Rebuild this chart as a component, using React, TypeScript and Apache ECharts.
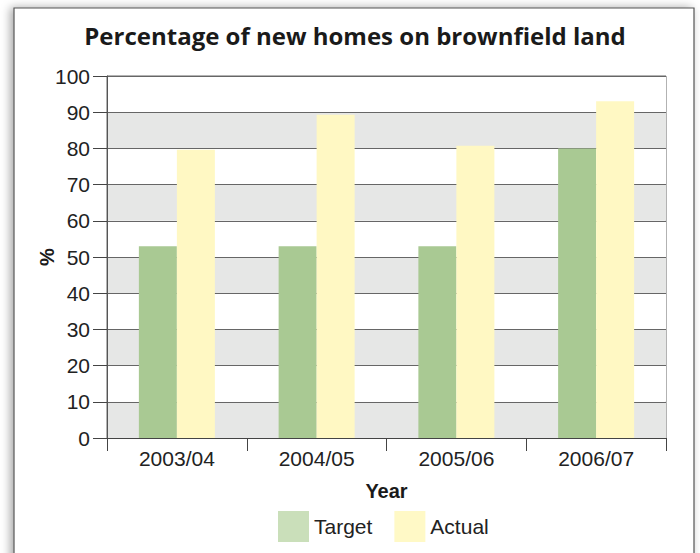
import React, { useEffect, useRef } from "react";
import * as echarts from "echarts";

const years = ["2003/04", "2004/05", "2005/06", "2006/07"];
const targetValues = [53, 53, 53, 80];
const actualValues = [79.6, 89.3, 80.7, 93];
const seriesNames = ["Target", "Actual"];

export default function App() {
  const ref = useRef<HTMLDivElement>(null);
  useEffect(() => {
    if (!ref.current) return;
    const chart = echarts.init(ref.current, undefined, { renderer: "svg" });
    const font = "'Liberation Sans', Arial, sans-serif";
    chart.setOption({
      animation: false,
      backgroundColor: "#ffffff",
      graphic: [
        {
          type: "rect",
          z: -10,
          shape: { x: 14, y: 8, width: 680, height: 560 },
          style: {
            fill: "#ffffff",
            stroke: "#555555",
            lineWidth: 1.2,
            shadowColor: "rgba(0,0,0,0.35)",
            shadowBlur: 10,
            shadowOffsetX: -3,
            shadowOffsetY: 0,
          },
        },
      ],
      title: {
        text: "Percentage of new homes on brownfield land",
        left: 355,
        textAlign: "center",
        top: 23,
        padding: 0,
        textStyle: {
          fontFamily: "'Open Sans', Lato, sans-serif",
          fontWeight: "bold",
          fontSize: 24,
          color: "#1a1a1a",
        },
      },
      legend: {
        left: 278,
        top: 511,
        padding: 0,
        itemWidth: 31,
        itemHeight: 31,
        itemGap: 22,
        icon: "rect",
        textStyle: { fontFamily: font, fontSize: 21, color: "#222" },
        data: [
          { name: seriesNames[0], itemStyle: { color: "#cadfba" } },
          { name: seriesNames[1], itemStyle: { color: "#fff9c6" } },
        ],
      },
      grid: {
        left: 107,
        right: 34,
        top: 76,
        bottom: 115,
        show: true,
        borderColor: "#666",
        borderWidth: 1,
        backgroundColor: "transparent",
      },
      xAxis: {
        type: "category",
        data: years,
        axisLine: { show: true, lineStyle: { color: "#444", width: 1 } },
        axisTick: { show: true, alignWithLabel: false, length: 13, lineStyle: { color: "#444" } },
        axisLabel: { fontFamily: font, fontSize: 21, color: "#222", margin: 10 },
        name: "Year",
        nameLocation: "middle",
        nameGap: 43,
        nameMoveOverlap: false,
        nameTextStyle: { fontFamily: font, fontSize: 20, fontWeight: "bold", color: "#1a1a1a" },
      },
      yAxis: {
        type: "value",
        min: 0,
        max: 100,
        interval: 10,
        axisLine: { show: true, lineStyle: { color: "#555", width: 1 } },
        axisTick: { show: true, length: 14, lineStyle: { color: "#444" } },
        axisLabel: { fontFamily: font, fontSize: 21, color: "#222", margin: 17 },
        splitLine: { show: true, lineStyle: { color: "#666", width: 1 } },
        splitArea: { show: true, areaStyle: { color: ["#e6e7e6", "#ffffff"] } },
        name: "%",
        nameLocation: "middle",
        nameGap: 50,
        nameRotate: 90,
        nameMoveOverlap: false,
        nameTextStyle: { fontFamily: font, fontSize: 20, fontWeight: "bold", color: "#1a1a1a" },
      },
      series: [
        {
          name: seriesNames[0],
          type: "bar",
          data: targetValues,
          barWidth: 38,
          barGap: "0%",
          itemStyle: { color: "#a9c993" },
        },
        {
          name: seriesNames[1],
          type: "bar",
          data: actualValues,
          barWidth: 38,
          barGap: "0%",
          itemStyle: { color: "#fff8c3" },
        },
      ],
    });
    return () => chart.dispose();
  }, []);
  return (
    <div
      ref={ref}
      style={{ position: "fixed", left: 0, top: 0, width: 700, height: 553 }}
    />
  );
}
